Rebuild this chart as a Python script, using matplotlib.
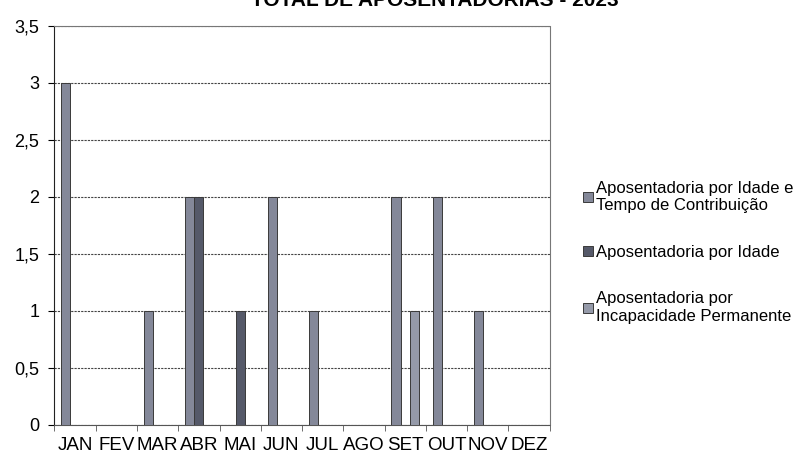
import matplotlib
matplotlib.use('Agg')
import matplotlib.pyplot as plt
import numpy as np

plt.rcParams['font.family'] = ['Liberation Sans', 'DejaVu Sans']

# ----------
# Dados
# ----------
meses = ['JAN', 'FEV', 'MAR', 'ABR', 'MAI', 'JUN', 'JUL', 'AGO', 'SET', 'OUT', 'NOV', 'DEZ']
idade_tempo = [3, 0, 1, 2, 0, 2, 1, 0, 2, 2, 1, 0]
idade = [0, 0, 0, 2, 1, 0, 0, 0, 0, 0, 0, 0]
incapacidade = [0, 0, 0, 0, 0, 0, 0, 0, 1, 0, 0, 0]
series_nomes = ['Aposentadoria por Idade e\nTempo de Contribuição',
                'Aposentadoria por Idade',
                'Aposentadoria por\nIncapacidade Permanente']
titulo = 'TOTAL DE APOSENTADORIAS - 2023'
yticks = [0, 0.5, 1, 1.5, 2, 2.5, 3, 3.5]
ytick_labels = ['0', '0,5', '1', '1,5', '2', '2,5', '3', '3,5']

cores = ['#848899', '#555969', '#959aa9']

fig = plt.figure(figsize=(8.12, 4.67), dpi=100)
ax = fig.add_axes([0.067, 0.09, 0.61, 0.855])

x = np.arange(len(meses))
w = 1 / 4.5
for i, (vals, nome) in enumerate(zip([idade_tempo, idade, incapacidade], series_nomes)):
    ax.bar(x + (i - 1) * w, vals, width=w, color=cores[i], edgecolor='#3a3a3a',
           linewidth=0.7, label=nome, zorder=3)

ax.set_xlim(-0.5, len(meses) - 0.5)
ax.set_ylim(0, 3.5)
ax.set_yticks(yticks)
ax.set_yticklabels(ytick_labels, fontsize=13)
ax.yaxis.grid(True, color='#444444', linestyle=(0, (2, 1)), linewidth=0.8, zorder=0)

ax.set_xticks(x)
ax.set_xticklabels(meses, fontsize=13.5)
ax.set_xticks(np.arange(-0.5, len(meses)), minor=True)
ax.tick_params(axis='x', which='major', length=0, pad=9)
ax.tick_params(axis='x', which='minor', length=4, color='#555555')
ax.tick_params(axis='y', length=4, pad=7)

for side in ['top', 'right']:
    ax.spines[side].set_color('#777777')
    ax.spines[side].set_linestyle((0, (2, 1)))
    ax.spines[side].set_linewidth(0.8)
ax.spines['bottom'].set_color('#555555')
ax.spines['bottom'].set_linestyle((0, (2, 1)))
ax.spines['left'].set_color('#222222')

# titulo cortado no topo, como no original
fig.text(0.535, 0.978, titulo, fontsize=15, fontweight='bold', ha='center', va='bottom')

leg = fig.legend(loc='center left', bbox_to_anchor=(0.7, 0.46), frameon=False,
                 fontsize=12, handlelength=0.55, handleheight=0.55, handletextpad=0.2,
                 labelspacing=1.9)

fig.savefig('out.png', dpi=100)
